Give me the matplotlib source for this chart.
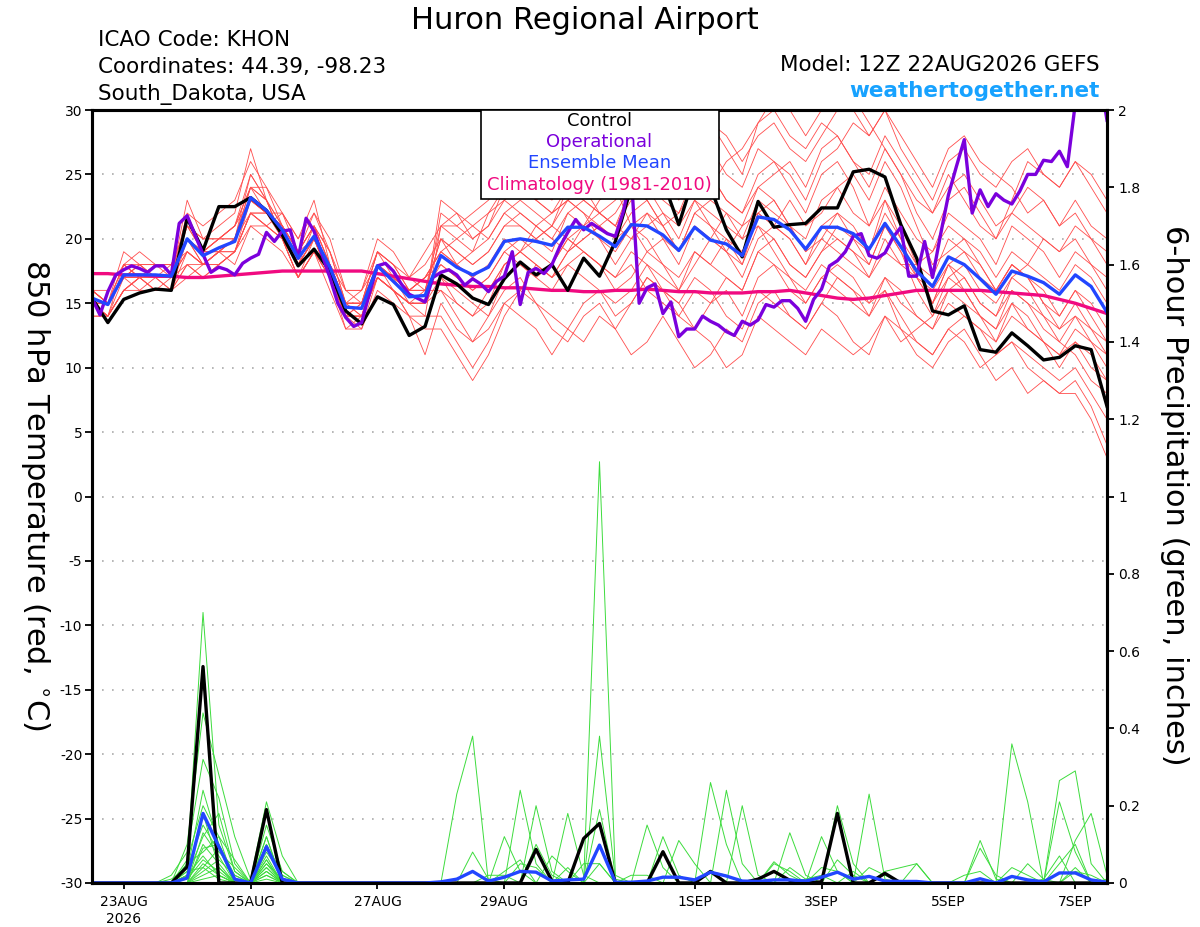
import numpy as np
import pandas as pd
import matplotlib
matplotlib.use("Agg")
import matplotlib.pyplot as plt
from matplotlib.patches import Rectangle
from matplotlib.ticker import FormatStrFormatter

# forecast times: ensemble every 6 h, operational every 3 h
times = pd.date_range("2026-08-22 12:00", periods=65, freq="6h")
times_op = pd.date_range("2026-08-22 12:00", periods=129, freq="3h")

tick_dates = pd.to_datetime(["2026-08-23", "2026-08-25", "2026-08-27", "2026-08-29",
                             "2026-09-01", "2026-09-03", "2026-09-05", "2026-09-07"])
tick_labels = ["23AUG\n2026", "25AUG", "27AUG", "29AUG", "1SEP", "3SEP", "5SEP", "7SEP"]

# 850 hPa temperature (C)
temp_mean = [15.4, 14.9, 17.2, 17.2, 17.2, 17.1, 20.0, 18.7, 19.3, 19.8,
             23.2, 22.2, 20.7, 18.5, 20.2, 17.8, 14.7, 14.6, 17.9, 16.7,
             15.5, 15.6, 18.7, 17.8, 17.2, 17.8, 19.8, 20.0, 19.8, 19.5,
             20.9, 20.9, 20.2, 19.4, 21.1, 21.0, 20.3, 19.1, 20.9, 19.9,
             19.6, 18.7, 21.7, 21.5, 20.7, 19.2, 20.9, 20.9, 20.4, 19.2,
             21.2, 19.4, 17.5, 16.3, 18.6, 18.0, 16.9, 15.7, 17.5, 17.1,
             16.6, 15.7, 17.2, 16.3, 14.3]

temp_control = [15.4, 13.5, 15.3, 15.8, 16.1, 16.0, 21.6, 19.1, 22.5, 22.5,
                23.2, 22.2, 20.3, 17.9, 19.2, 17.5, 14.4, 13.4, 15.5, 14.9,
                12.5, 13.2, 17.2, 16.5, 15.4, 14.9, 16.9, 18.2, 17.2, 18.0,
                16.0, 18.5, 17.1, 19.8, 24.0, 25.0, 24.5, 21.1, 25.0, 24.0,
                20.7, 18.6, 22.9, 20.9, 21.1, 21.2, 22.4, 22.4, 25.2, 25.4,
                24.8, 21.1, 18.5, 14.4, 14.1, 14.8, 11.4, 11.2, 12.7, 11.7,
                10.6, 10.8, 11.7, 11.4, 7.0]

temp_oper = [15.4, 14.1, 15.9, 17.2, 17.6, 17.9, 17.7, 17.4, 17.9, 17.9,
             17.2, 21.2, 21.8, 20.3, 18.8, 17.4, 17.8, 17.6, 17.2, 18.1,
             18.5, 18.8, 20.5, 19.8, 20.6, 20.7, 18.5, 21.6, 20.6, 18.8,
             17.0, 15.0, 13.9, 13.2, 13.5, 15.8, 17.9, 18.1, 17.5, 16.5,
             15.7, 15.4, 15.1, 17.0, 17.4, 17.6, 17.2, 16.4, 16.9, 16.5,
             15.9, 16.7, 17.1, 19.0, 14.9, 17.4, 17.7, 17.3, 18.0, 19.4,
             20.5, 21.5, 20.7, 21.2, 20.8, 20.4, 20.2, 22.1, 25.0, 15.0,
             16.2, 16.5, 14.2, 15.1, 12.4, 13.0, 13.0, 14.0, 13.6, 13.3,
             12.8, 12.5, 13.6, 13.3, 13.7, 14.9, 14.7, 15.2, 15.2, 14.6,
             13.6, 15.3, 16.1, 17.9, 18.3, 19.0, 20.2, 20.4, 18.7, 18.5,
             18.9, 20.1, 20.9, 17.1, 17.1, 19.8, 17.0, 20.3, 23.4, 25.6,
             27.7, 22.0, 23.8, 22.5, 23.5, 23.0, 22.7, 23.7, 25.0, 25.0,
             26.1, 26.0, 26.8, 25.6, 30.5, 33.0, 33.0, 33.0, 29.2]

temp_clim = [17.3, 17.3, 17.2, 17.2, 17.1, 17.1, 17.0, 17.0, 17.1, 17.2,
             17.3, 17.4, 17.5, 17.5, 17.5, 17.5, 17.5, 17.5, 17.3, 17.1,
             16.9, 16.7, 16.5, 16.4, 16.3, 16.3, 16.2, 16.2, 16.1, 16.0,
             16.0, 15.9, 15.9, 16.0, 16.0, 16.1, 16.0, 15.9, 15.9, 15.8,
             15.8, 15.8, 15.9, 15.9, 16.0, 15.8, 15.6, 15.4, 15.3, 15.4,
             15.6, 15.8, 16.0, 16.0, 16.0, 16.0, 16.0, 15.9, 15.8, 15.7,
             15.6, 15.3, 15.0, 14.6, 14.2]

# ensemble members, temperature
t_mem01 = [15, 14, 16, 17, 17, 18, 21, 19, 20, 21, 25, 23, 21, 19, 21, 18, 14, 14, 18, 17, 16, 17,
           19, 20, 21, 22, 23, 24, 23, 24, 25, 26, 24, 25, 27, 28, 26, 25, 27, 29, 28, 26,
           28, 29, 27, 26, 28, 30, 31, 29, 27, 25, 23, 22, 24, 25, 23, 21, 22, 24, 23, 21, 22, 20, 18]
t_mem02 = [16, 15, 18, 18, 17, 17, 19, 18, 19, 20, 22, 21, 20, 18, 19, 17, 14, 15, 17, 16, 15, 15,
           16, 14, 12, 13, 15, 16, 15, 14, 13, 15, 16, 14, 15, 17, 16, 14, 13, 15, 16, 14,
           17, 18, 16, 15, 17, 18, 17, 15, 16, 14, 12, 11, 13, 12, 10, 11, 12, 11, 10, 9, 10, 8, 6]
t_mem03 = [15, 15, 17, 18, 18, 17, 23, 20, 21, 22, 27, 23, 20, 17, 20, 17, 13, 13, 17, 16, 14, 13,
           13, 11, 9, 11, 14, 16, 18, 17, 19, 20, 21, 20, 22, 23, 21, 19, 22, 21, 20, 18,
           22, 23, 21, 19, 20, 22, 21, 19, 23, 21, 18, 15, 17, 16, 14, 13, 16, 15, 13, 12, 14, 12, 11]
t_mem04 = [16, 16, 18, 17, 16, 16, 18, 17, 18, 19, 22, 22, 21, 19, 21, 19, 16, 16, 19, 18, 17, 18,
           20, 19, 18, 19, 21, 21, 20, 19, 22, 23, 22, 21, 24, 25, 23, 22, 25, 24, 26, 27,
           29, 30, 28, 27, 29, 28, 26, 24, 27, 25, 22, 20, 23, 24, 22, 20, 23, 26, 25, 24, 26, 24, 22]
t_mem05 = [15, 14, 17, 16, 17, 16, 17, 18, 19, 18, 21, 21, 22, 20, 22, 19, 15, 15, 19, 18, 16, 17,
           18, 17, 16, 17, 19, 20, 19, 18, 20, 21, 20, 19, 21, 20, 18, 17, 19, 18, 17, 16,
           19, 18, 17, 15, 17, 16, 15, 14, 16, 13, 11, 10, 12, 13, 11, 9, 10, 8, 9, 8, 9, 7, 4]
t_mem06 = [14, 14, 16, 17, 18, 18, 20, 19, 19, 20, 24, 23, 20, 17, 19, 16, 13, 14, 17, 16, 15, 14,
           21, 22, 20, 21, 23, 22, 21, 20, 19, 21, 23, 24, 21, 19, 18, 16, 18, 20, 22, 21,
           24, 23, 21, 20, 23, 24, 22, 21, 24, 22, 20, 19, 22, 21, 20, 18, 21, 20, 19, 17, 19, 18, 16]
t_mem07 = [16, 15, 18, 19, 18, 18, 21, 20, 20, 21, 24, 22, 21, 19, 20, 18, 15, 14, 18, 17, 16, 16,
           17, 16, 15, 14, 16, 17, 15, 13, 12, 14, 15, 13, 11, 12, 14, 12, 10, 11, 13, 12,
           15, 16, 14, 13, 15, 14, 12, 11, 14, 12, 13, 14, 16, 15, 14, 12, 15, 13, 12, 11, 13, 12, 10]
t_mem08 = [15, 15, 17, 17, 17, 17, 19, 18, 19, 19, 23, 22, 21, 18, 21, 18, 15, 15, 19, 17, 15, 15,
           22, 21, 20, 21, 24, 25, 23, 22, 24, 25, 27, 26, 28, 29, 27, 24, 26, 25, 23, 22,
           25, 26, 24, 22, 25, 26, 24, 21, 23, 20, 17, 15, 18, 17, 15, 14, 17, 16, 14, 13, 15, 13, 12]
t_mem09 = [16, 15, 17, 17, 16, 17, 22, 21, 22, 23, 26, 24, 21, 18, 20, 17, 14, 13, 16, 15, 14, 11,
           15, 13, 12, 14, 17, 18, 17, 16, 18, 19, 18, 16, 17, 19, 20, 18, 21, 20, 19, 17,
           20, 21, 23, 21, 22, 24, 25, 23, 26, 24, 21, 18, 19, 20, 18, 16, 18, 17, 15, 14, 16, 14, 12]
t_mem10 = [15, 14, 16, 16, 16, 16, 18, 17, 18, 19, 21, 20, 19, 17, 19, 18, 15, 15, 18, 17, 16, 17,
           19, 18, 17, 18, 20, 19, 21, 22, 23, 22, 20, 18, 20, 21, 22, 20, 23, 21, 19, 18,
           21, 20, 18, 17, 19, 21, 20, 18, 21, 19, 16, 14, 17, 18, 16, 15, 17, 18, 20, 19, 21, 20, 19]
t_mem11 = [15, 15, 19, 18, 18, 18, 20, 19, 20, 21, 24, 24, 22, 19, 22, 20, 16, 16, 20, 19, 17, 19,
           21, 20, 19, 22, 24, 25, 24, 23, 25, 26, 25, 24, 26, 28, 29, 27, 30, 29, 27, 25,
           29, 31, 30, 28, 30, 32, 30, 28, 30, 27, 25, 23, 26, 27, 25, 24, 26, 27, 25, 24, 26, 25, 23]
t_mem12 = [14, 14, 16, 17, 17, 16, 19, 18, 18, 19, 22, 21, 20, 18, 20, 17, 14, 14, 17, 16, 15, 15,
           17, 15, 14, 15, 18, 19, 20, 21, 20, 19, 18, 17, 19, 18, 16, 15, 17, 16, 14, 13,
           16, 15, 14, 13, 15, 17, 16, 14, 17, 16, 14, 13, 16, 17, 15, 14, 16, 15, 14, 12, 11, 9, 8]
t_mem13 = [16, 15, 17, 18, 17, 17, 20, 19, 19, 20, 23, 22, 21, 18, 20, 18, 16, 15, 18, 17, 17, 16,
           20, 19, 18, 19, 21, 22, 21, 20, 22, 21, 22, 23, 25, 24, 22, 21, 23, 22, 21, 20,
           23, 22, 21, 19, 21, 20, 19, 17, 19, 18, 17, 16, 18, 19, 17, 16, 18, 17, 16, 14, 16, 15, 13]
t_mem14 = [15, 14, 18, 17, 17, 17, 21, 20, 20, 20, 25, 23, 20, 17, 19, 17, 14, 14, 17, 16, 14, 14,
           14, 12, 10, 12, 15, 14, 13, 11, 13, 12, 14, 13, 15, 17, 16, 15, 13, 12, 10, 11,
           14, 13, 12, 11, 13, 12, 11, 12, 14, 13, 12, 11, 13, 14, 13, 11, 12, 10, 9, 8, 8, 6, 3]
t_mem15 = [15, 15, 17, 17, 17, 17, 20, 18, 19, 19, 22, 22, 21, 19, 21, 19, 15, 15, 19, 18, 16, 17,
           19, 18, 19, 20, 22, 21, 20, 21, 23, 22, 21, 20, 21, 22, 20, 19, 21, 20, 19, 21,
           22, 21, 20, 18, 20, 19, 18, 17, 20, 18, 18, 19, 21, 20, 19, 17, 19, 18, 17, 16, 18, 17, 15]
t_mem16 = [16, 15, 17, 17, 18, 18, 19, 18, 19, 20, 23, 22, 22, 20, 23, 18, 15, 14, 18, 16, 15, 15,
           23, 22, 21, 20, 22, 23, 22, 21, 24, 23, 22, 21, 23, 24, 25, 23, 26, 27, 25, 24,
           27, 26, 25, 23, 26, 27, 29, 28, 30, 28, 26, 24, 27, 28, 26, 25, 24, 22, 23, 21, 23, 21, 20]
t_mem17 = [15, 15, 18, 17, 17, 17, 21, 19, 20, 20, 24, 23, 21, 18, 20, 17, 14, 15, 18, 17, 16, 16,
           18, 17, 16, 17, 19, 18, 17, 18, 20, 19, 18, 17, 18, 16, 15, 14, 16, 15, 17, 16,
           19, 20, 18, 17, 19, 20, 19, 18, 21, 19, 17, 15, 18, 16, 14, 13, 15, 14, 12, 11, 12, 10, 9]
t_mem18 = [15, 14, 16, 17, 16, 16, 20, 18, 19, 20, 23, 22, 20, 17, 19, 17, 14, 14, 17, 16, 15, 16,
           21, 21, 22, 23, 25, 24, 23, 22, 23, 24, 22, 21, 20, 22, 21, 19, 22, 23, 22, 20,
           21, 19, 17, 16, 18, 17, 16, 15, 17, 15, 14, 13, 15, 14, 13, 12, 14, 13, 12, 10, 12, 11, 9]
t_mem19 = [16, 15, 17, 18, 17, 17, 18, 18, 18, 19, 22, 21, 20, 18, 20, 18, 15, 16, 18, 17, 16, 16,
           16, 15, 14, 16, 18, 19, 18, 17, 19, 20, 21, 22, 24, 23, 21, 22, 24, 25, 23, 22,
           24, 25, 26, 24, 27, 28, 26, 25, 28, 26, 24, 22, 25, 23, 21, 20, 22, 21, 20, 19, 20, 18, 17]
t_mem20 = [15, 15, 17, 17, 17, 17, 20, 19, 20, 21, 23, 22, 21, 19, 21, 18, 15, 15, 18, 17, 16, 16,
           20, 18, 17, 16, 18, 19, 18, 17, 18, 17, 16, 15, 16, 18, 17, 16, 19, 18, 20, 19,
           22, 21, 20, 18, 21, 22, 20, 19, 22, 20, 18, 17, 20, 19, 18, 16, 18, 17, 15, 13, 14, 13, 11]

# 6-hour precipitation (inches)
prcp_control = [0, 0, 0, 0, 0, 0, .042, .56, 0, 0, 0, .19, 0,
                0, 0, 0, 0, 0, 0, 0, 0, 0, 0, 0, 0, 0,
                0, 0, .087, .005, 0, .115, .154, 0, 0, 0, .081, 0, 0,
                .03, 0, 0, .01, .03, .007, 0, .003, .18, 0, 0, .025, 0,
                0, 0, 0, 0, 0, 0, 0, 0, 0, 0, 0, 0, 0]
prcp_mean = [0, 0, 0, 0, 0, 0, .013, .18, .094, .01, 0, .094, .01,
             0, 0, 0, 0, 0, 0, 0, 0, 0, .003, .01, .03, .005,
             .015, .03, .028, .005, .008, .01, .098, .002, .002, .005, .015, .015, .008,
             .028, .018, .005, .004, .008, .008, .005, .015, .028, .01, .017, .005, .004,
             .004, 0, 0, 0, .011, 0, .017, .008, .003, .026, .026, .008, .002]

# ensemble members, precipitation
p_mem01 = [0, 0, 0, 0, 0, 0, .05, .70, .15, .03, 0, .10, .02,
           0, 0, 0, 0, 0, 0, 0, 0, 0, 0, 0, 0, 0,
           0, 0, 0, 0, 0, 0, 1.09, .02, 0, 0, 0, 0, 0,
           0, 0, 0, 0, 0, 0, 0, 0, 0, 0, 0, 0, 0,
           0, 0, 0, 0, 0, 0, .36, .21, 0, 0, 0, 0, 0]
p_mem02 = [0, 0, 0, 0, 0, 0, .10, .44, .28, .12, .01, .21, .07,
           0, 0, 0, 0, 0, 0, 0, 0, 0, 0, .23, .38, 0,
           0, 0, 0, 0, 0, 0, 0, 0, 0, 0, 0, 0, 0,
           .26, .10, 0, 0, 0, 0, 0, 0, 0, 0, 0, 0, 0,
           0, 0, 0, 0, 0, 0, 0, 0, 0, 0, 0, 0, 0]
p_mem03 = [0, 0, 0, 0, 0, .02, .08, .32, .22, .05, 0, .15, .03,
           0, 0, 0, 0, 0, 0, 0, 0, 0, 0, 0, 0, 0,
           0, 0, 0, 0, 0, 0, .38, .01, 0, 0, 0, 0, 0,
           0, 0, 0, 0, 0, 0, 0, 0, 0, 0, 0, 0, 0,
           0, 0, 0, 0, 0, 0, 0, 0, 0, .265, .29, .05, 0]
p_mem04 = [0, 0, 0, 0, 0, 0, .03, .24, .10, .02, 0, .12, 0,
           0, 0, 0, 0, 0, 0, 0, 0, 0, 0, 0, 0, 0,
           0, .24, .05, 0, 0, 0, 0, 0, 0, 0, 0, 0, 0,
           0, 0, 0, 0, 0, .13, .02, 0, 0, 0, 0, 0, 0,
           0, 0, 0, 0, 0, 0, 0, 0, 0, 0, 0, 0, 0]
p_mem05 = [0, 0, 0, 0, 0, 0, .06, .20, .12, 0, 0, .08, .02,
           0, 0, 0, 0, 0, 0, 0, 0, 0, 0, 0, 0, 0,
           0, 0, .20, .03, 0, 0, 0, 0, 0, 0, 0, 0, 0,
           0, 0, 0, 0, 0, 0, 0, 0, 0, 0, .23, .01, 0,
           0, 0, 0, 0, 0, 0, 0, 0, 0, 0, 0, 0, 0]
p_mem06 = [0, 0, 0, 0, 0, .01, .04, .15, .08, .04, 0, .05, 0,
           0, 0, 0, 0, 0, 0, 0, 0, 0, 0, 0, 0, 0,
           0, 0, 0, 0, .18, .02, 0, 0, 0, 0, 0, 0, 0,
           0, 0, 0, 0, 0, 0, 0, 0, .20, .05, 0, 0, 0,
           0, 0, 0, 0, 0, 0, 0, 0, 0, 0, 0, 0, 0]
p_mem07 = [0, 0, 0, 0, 0, 0, .02, .12, .18, .03, 0, .12, 0,
           0, 0, 0, 0, 0, 0, 0, 0, 0, 0, 0, 0, 0,
           0, 0, 0, 0, 0, 0, .19, 0, 0, .15, .04, 0, 0,
           0, 0, 0, 0, 0, 0, 0, 0, 0, 0, 0, 0, 0,
           0, 0, 0, 0, 0, 0, 0, 0, 0, 0, .11, .18, .02]
p_mem08 = [0, 0, 0, 0, 0, 0, 0, .10, .05, 0, 0, .04, 0,
           0, 0, 0, 0, 0, 0, 0, 0, 0, 0, 0, 0, 0,
           .12, .03, 0, 0, 0, 0, 0, 0, 0, 0, 0, 0, 0,
           0, 0, .20, .02, 0, 0, 0, 0, 0, 0, 0, 0, 0,
           0, 0, 0, 0, .11, .01, 0, 0, 0, 0, 0, 0, 0]
p_mem09 = [0, 0, 0, 0, 0, 0, .05, .08, .12, .06, 0, .09, .03,
           0, 0, 0, 0, 0, 0, 0, 0, 0, 0, 0, 0, 0,
           0, 0, 0, 0, 0, 0, 0, 0, 0, 0, .12, .02, 0,
           0, 0, 0, 0, 0, 0, 0, .12, .03, 0, 0, 0, 0,
           0, 0, 0, 0, 0, 0, 0, 0, 0, 0, 0, 0, 0]
p_mem10 = [0, 0, 0, 0, 0, 0, 0, .05, .02, 0, 0, .03, 0,
           0, 0, 0, 0, 0, 0, 0, 0, 0, 0, 0, .08, .01,
           0, 0, 0, 0, 0, 0, 0, 0, 0, 0, 0, 0, 0,
           0, .24, .05, 0, 0, 0, 0, 0, 0, 0, 0, 0, 0,
           0, 0, 0, 0, .09, .02, 0, 0, 0, 0, 0, 0, 0]
p_mem11 = [0, 0, 0, 0, 0, 0, .03, .04, .09, 0, 0, .06, 0,
           0, 0, 0, 0, 0, 0, 0, 0, 0, 0, 0, 0, 0,
           0, 0, 0, 0, 0, 0, 0, 0, 0, 0, 0, .11, .05,
           0, 0, 0, 0, .055, .02, 0, 0, 0, 0, 0, 0, 0,
           0, 0, 0, 0, 0, 0, 0, 0, 0, .21, .08, 0, 0]
p_mem12 = [0, 0, 0, 0, 0, 0, 0, .03, .06, .02, 0, .02, 0,
           0, 0, 0, 0, 0, 0, 0, 0, 0, 0, 0, 0, 0,
           0, 0, 0, .07, .03, 0, 0, 0, 0, 0, 0, 0, 0,
           0, 0, 0, 0, 0, 0, 0, 0, 0, 0, 0, 0, 0,
           .05, 0, 0, 0, 0, 0, 0, 0, 0, .05, .10, 0, 0]
p_mem13 = [0, 0, 0, 0, 0, 0, 0, .02, .04, 0, 0, .07, 0,
           0, 0, 0, 0, 0, 0, 0, 0, 0, 0, 0, 0, 0,
           0, 0, 0, 0, 0, .05, .05, 0, 0, 0, 0, 0, 0,
           0, 0, 0, 0, 0, 0, 0, 0, .06, .02, 0, 0, 0,
           0, 0, 0, .02, .03, 0, 0, 0, 0, 0, 0, 0, 0]
p_mem14 = [0, 0, 0, 0, 0, 0, .01, .06, .03, 0, 0, .04, 0,
           0, 0, 0, 0, 0, 0, 0, 0, 0, 0, 0, 0, 0,
           0, 0, .10, .02, 0, 0, 0, 0, 0, 0, 0, 0, 0,
           0, 0, 0, 0, .05, .03, 0, 0, 0, 0, 0, 0, 0,
           0, 0, 0, 0, 0, 0, 0, .05, .01, 0, 0, 0, 0]
p_mem15 = [0, 0, 0, 0, 0, 0, 0, .01, .02, 0, 0, .05, .01,
           0, 0, 0, 0, 0, 0, 0, 0, 0, 0, 0, 0, 0,
           0, .05, .04, 0, 0, 0, 0, 0, 0, 0, 0, 0, 0,
           0, 0, 0, 0, 0, 0, 0, 0, 0, 0, 0, .03, .04,
           .05, 0, 0, 0, 0, 0, 0, 0, 0, 0, 0, 0, 0]
p_mem16 = [0, 0, 0, 0, 0, 0, 0, .13, .07, 0, 0, .10, 0,
           0, 0, 0, 0, 0, 0, 0, 0, 0, 0, 0, 0, 0,
           0, 0, 0, 0, 0, 0, .05, 0, 0, 0, 0, 0, 0,
           .03, .02, 0, 0, 0, 0, 0, .04, .03, 0, 0, 0, 0,
           0, 0, 0, 0, 0, 0, 0, 0, 0, 0, .03, .02, 0]
p_mem17 = [0, 0, 0, 0, 0, 0, .02, .18, .04, 0, 0, .01, 0,
           0, 0, 0, 0, 0, 0, 0, 0, 0, 0, 0, 0, 0,
           0, 0, 0, 0, .04, 0, 0, 0, 0, 0, 0, 0, 0,
           0, 0, 0, 0, 0, 0, .01, .02, 0, 0, 0, 0, 0,
           0, 0, 0, 0, 0, 0, .04, .02, 0, 0, 0, 0, 0]
p_mem18 = [0, 0, 0, 0, 0, 0, 0, .09, .10, 0, 0, .02, 0,
           0, 0, 0, 0, 0, 0, 0, 0, 0, 0, 0, 0, 0,
           .03, .06, 0, 0, 0, 0, 0, 0, 0, 0, 0, 0, 0,
           0, 0, 0, 0, 0, 0, 0, 0, 0, 0, .04, .02, 0,
           0, 0, 0, 0, 0, 0, 0, 0, 0, 0, .04, 0, 0]
p_mem19 = [0, 0, 0, 0, 0, 0, 0, .04, .01, 0, 0, .06, 0,
           0, 0, 0, 0, 0, 0, 0, 0, 0, 0, 0, 0, 0,
           0, 0, 0, 0, 0, 0, 0, 0, .02, .02, 0, 0, 0,
           0, 0, 0, 0, 0, .04, .01, 0, 0, 0, 0, 0, 0,
           0, 0, 0, 0, 0, 0, 0, 0, .01, .07, 0, 0, 0]
p_mem20 = [0, 0, 0, 0, 0, 0, .02, .07, .02, 0, 0, .03, 0,
           0, 0, 0, 0, 0, 0, 0, 0, 0, 0, 0, 0, .02,
           .02, 0, 0, 0, 0, 0, 0, 0, 0, 0, 0, 0, 0,
           0, 0, 0, 0, 0, 0, 0, 0, 0, .03, 0, 0, 0,
           0, 0, 0, 0, 0, 0, 0, 0, 0, 0, 0, 0, .01]

temp_members = [t_mem01, t_mem02, t_mem03, t_mem04, t_mem05, t_mem06, t_mem07, t_mem08, t_mem09, t_mem10,
                t_mem11, t_mem12, t_mem13, t_mem14, t_mem15, t_mem16, t_mem17, t_mem18, t_mem19, t_mem20]
prcp_members = [p_mem01, p_mem02, p_mem03, p_mem04, p_mem05, p_mem06, p_mem07, p_mem08, p_mem09, p_mem10,
                p_mem11, p_mem12, p_mem13, p_mem14, p_mem15, p_mem16, p_mem17, p_mem18, p_mem19, p_mem20]

plt.rcParams["font.family"] = "DejaVu Sans"
plt.rcParams["axes.unicode_minus"] = False

c_control = "black"
c_oper = "#7b00dc"
c_mean = "#2246ff"
c_clim = "#f00a80"

fig = plt.figure(figsize=(12, 9.27), dpi=100)
ax = fig.add_axes([92 / 1200, 1 - 883 / 927, 1015 / 1200, 773 / 927])
ax2 = ax.twinx()

# temperature on the left axis
for mem in temp_members:
    ax.plot(times, mem, color="#ff4d4d", lw=0.6)
ax.plot(times, temp_clim, color=c_clim, lw=2.4)
ax.plot(times, temp_control, color=c_control, lw=2.4)
ax.plot(times_op, temp_oper, color=c_oper, lw=2.4)
ax.plot(times, temp_mean, color=c_mean, lw=2.4)

ax.set_ylim(-30, 30)
ax.set_yticks(np.arange(-30, 31, 5))
ax.set_xlim(times[0], times[-1])
ax.set_xticks(tick_dates)
ax.set_xticklabels(tick_labels)
ax.yaxis.grid(True, color="#aaaaaa", linestyle=(0, (1, 5)), lw=1.2)
ax.tick_params(axis="y", direction="out", length=5, width=1.3, labelsize=10, pad=2)
ax.tick_params(axis="x", direction="out", length=4, width=1.3, labelsize=10, pad=5)

# precipitation on the right axis
for mem in prcp_members:
    ax2.plot(times, mem, color="#3ddc3d", lw=0.7)
ax2.plot(times, prcp_control, color=c_control, lw=2.4)
ax2.plot(times, prcp_mean, color=c_mean, lw=2.4)
ax2.set_ylim(0, 2)
ax2.set_yticks(np.arange(0, 2.01, 0.2))
ax2.yaxis.set_major_formatter(FormatStrFormatter("%g"))
ax2.tick_params(axis="y", direction="out", length=5, width=1.3, labelsize=10, pad=3)

for a in (ax, ax2):
    for sp in a.spines.values():
        sp.set_linewidth(2.2)

# legend box at the top of the plot
ax2.add_patch(Rectangle((0.3833, 0.8849), 0.2345, 0.1151, transform=ax2.transAxes,
                        facecolor="white", edgecolor="black", lw=1.2, zorder=10))
legend_rows = [("Control", c_control, 0.9858), ("Operational", c_oper, 0.9586),
               ("Ensemble Mean", c_mean, 0.9314), ("Climatology (1981-2010)", c_clim, 0.9030)]
for txt, col, yy in legend_rows:
    ax2.text(0.5, yy, txt, color=col, fontsize=13, ha="center", va="center",
             transform=ax2.transAxes, zorder=11)

# titles and header text
fig.text(585 / 1200, 1 - 29 / 927, "Huron Regional Airport", fontsize=22, ha="center", va="baseline")
fig.text(98 / 1200, 1 - 46 / 927, "ICAO Code: KHON", fontsize=15.5, va="baseline")
fig.text(98 / 1200, 1 - 73 / 927, "Coordinates: 44.39, -98.23", fontsize=15.5, va="baseline")
fig.text(98 / 1200, 1 - 100 / 927, "South_Dakota, USA", fontsize=15.5, va="baseline")
fig.text(1100 / 1200, 1 - 71 / 927, "Model: 12Z 22AUG2026 GEFS", fontsize=15.5, ha="right", va="baseline")
fig.text(1100 / 1200, 1 - 97 / 927, "weathertogether.net", fontsize=15.5, fontweight="bold",
         color="#17a2ff", ha="right", va="baseline")

fig.text(35 / 1200, 1 - 495 / 927, "850 hPa Temperature (red, $^{\\circ}$C)", fontsize=22,
         rotation=270, ha="center", va="center")
fig.text(1175 / 1200, 1 - 495 / 927, "6-hour Precipitation (green, inches)", fontsize=22,
         rotation=270, ha="center", va="center")

fig.savefig("out.png", dpi=100)
